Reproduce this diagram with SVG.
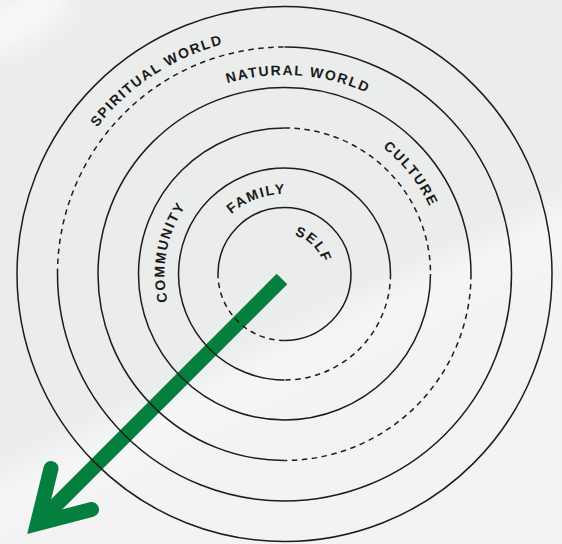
<svg xmlns="http://www.w3.org/2000/svg" width="562" height="544" viewBox="0 0 562 544">
  <style>
    .ring { fill: none; stroke: #1c1c1c; stroke-width: 1.5; }
    .dash { stroke-dasharray: 5.5 4.5; }
    .lbl { font-family: "Liberation Sans", Arial, sans-serif; font-weight: bold; font-size: 14px; fill: #1a1a1a; letter-spacing: 1.6px; }
    .arrow { fill: none; stroke: #047f3d; stroke-width: 15; }
  </style>
  <defs>
    <linearGradient id="bg" gradientUnits="userSpaceOnUse" x1="262" y1="326" x2="300" y2="404">
      <stop offset="0" stop-color="#eaedec"/>
      <stop offset="0.5" stop-color="#f6f6f6"/>
      <stop offset="1" stop-color="#f3f3f3"/>
    </linearGradient>
    <filter id="soft" x="-50%" y="-50%" width="200%" height="200%">
      <feGaussianBlur stdDeviation="12"/>
    </filter>
    <path id="p-spiritual" d="M46.92,288.12 A238,238 0 0 1 391.07,61.19"/>
    <path id="p-natural" d="M119.52,162.72 A199,199 0 0 1 463.36,186.76"/>
    <path id="p-culture" d="M261.40,115.68 A160,160 0 0 1 433.16,333.16"/>
    <path id="p-community" d="M206.17,364.91 A120,120 0 0 1 244.84,160.74"/>
    <path id="p-family" d="M205.64,260.52 A80,80 0 0 1 335.62,212.46"/>
    <path id="p-self" d="M273.88,235.44 A40,40 0 0 1 323.21,284.08"/>
  </defs>

  <rect x="0" y="0" width="562" height="544" fill="url(#bg)"/>
  <ellipse cx="20" cy="20" rx="60" ry="25" transform="rotate(-30 20 20)" fill="#ffffff" opacity="0.6" filter="url(#soft)"/>

  <g id="connectors">
    <path class="arrow" d="M282,279 L40,521"/>
    <path class="arrow" d="M51,468.5 L37.5,523.5 L91.5,509.5" stroke-linecap="round" stroke-linejoin="miter"/>
  </g>

  <g id="spiritual-world">
    <circle class="ring" cx="284.5" cy="274" r="267.5"/>
    <text class="lbl"><textPath href="#p-spiritual" startOffset="50%" text-anchor="middle">SPIRITUAL WORLD</textPath></text>
  </g>
  <g id="natural-world">
    <path class="ring dash" d="M57.5,274 A227,227 0 0 1 284.5,47"/>
    <path class="ring" d="M284.5,47 A227,227 0 1 1 57.5,274"/>
    <text class="lbl"><textPath href="#p-natural" startOffset="50%" text-anchor="middle">NATURAL WORLD</textPath></text>
  </g>
  <g id="culture">
    <path class="ring dash" d="M471,274 A186.5,186.5 0 0 1 284.5,460.5"/>
    <path class="ring" d="M284.5,460.5 A186.5,186.5 0 1 1 471,274"/>
    <text class="lbl"><textPath href="#p-culture" startOffset="50%" text-anchor="middle">CULTURE</textPath></text>
  </g>
  <g id="community">
    <path class="ring dash" d="M284.5,128 A146,146 0 0 1 430.5,274"/>
    <path class="ring" d="M430.5,274 A146,146 0 1 1 284.5,128"/>
    <text class="lbl"><textPath href="#p-community" startOffset="50%" text-anchor="middle">COMMUNITY</textPath></text>
  </g>
  <g id="family">
    <path class="ring dash" d="M390.5,274 A106,106 0 0 1 284.5,380"/>
    <path class="ring" d="M284.5,380 A106,106 0 1 1 390.5,274"/>
    <text class="lbl"><textPath href="#p-family" startOffset="50%" text-anchor="middle">FAMILY</textPath></text>
  </g>
  <g id="self">
    <path class="ring dash" d="M284.5,340.5 A66.5,66.5 0 0 1 218,274"/>
    <path class="ring" d="M218,274 A66.5,66.5 0 1 1 284.5,340.5"/>
    <text class="lbl" style="letter-spacing:1.5px"><textPath href="#p-self" startOffset="50%" text-anchor="middle">SELF</textPath></text>
  </g>
</svg>
